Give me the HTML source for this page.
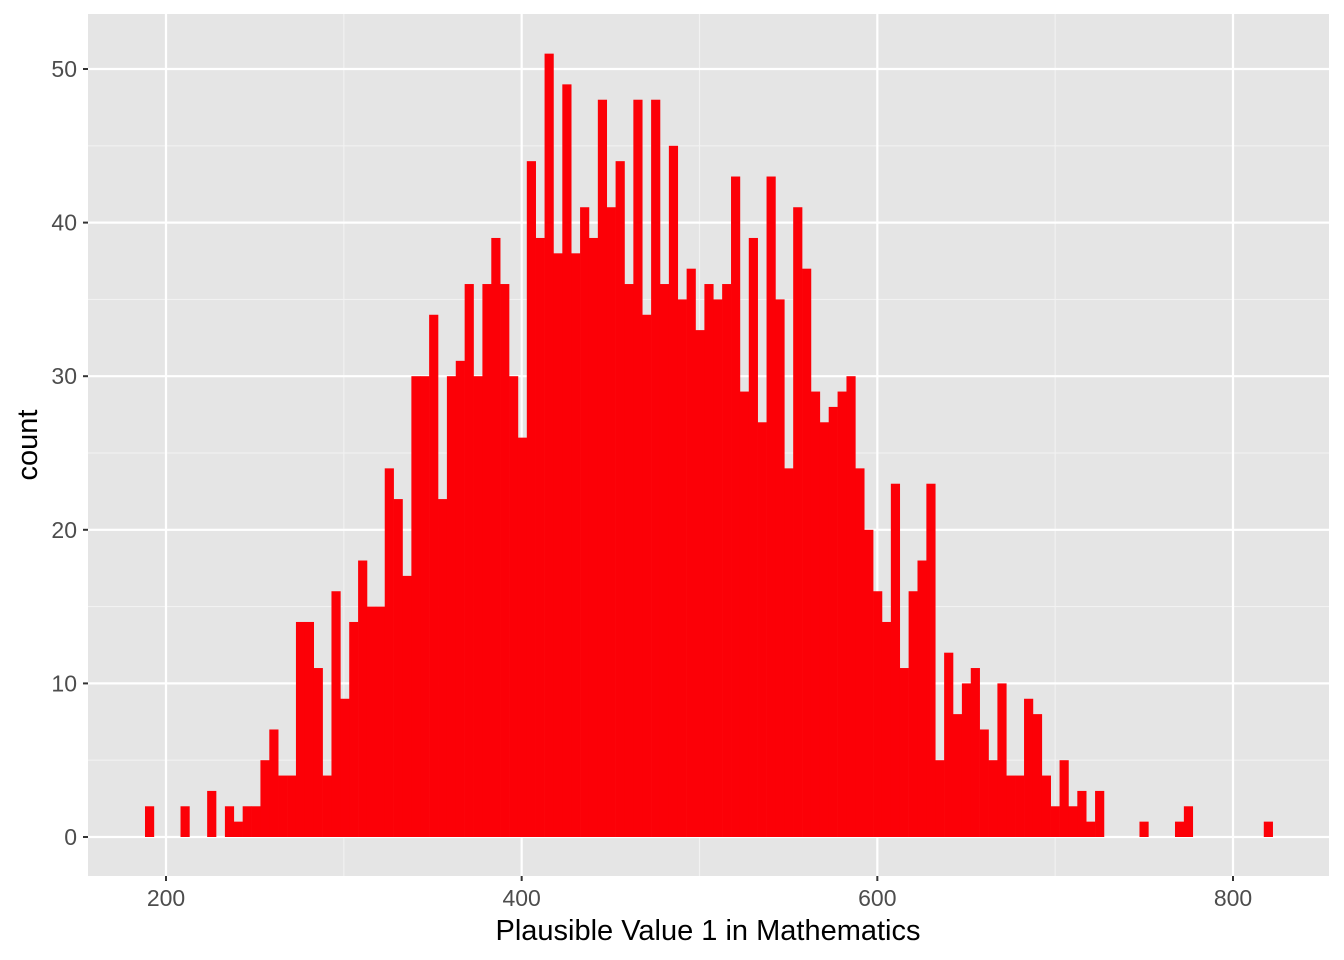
<!DOCTYPE html>
<html><head><meta charset="utf-8"><style>
body{margin:0;background:#fff;}
svg{display:block;font-family:"Liberation Sans",Arial,sans-serif;}
</style></head><body>
<svg id="chart" width="1344" height="960" xmlns="http://www.w3.org/2000/svg">
<rect x="88" y="14" width="1241" height="862" fill="#e5e5e5"/>
<g id="grid"></g>
<g id="bars"></g>
<g id="axes"></g>
<text x="708" y="940" text-anchor="middle" font-size="29" fill="#000">Plausible Value 1 in Mathematics</text>
<text transform="translate(37,445) rotate(-90)" text-anchor="middle" font-size="29" fill="#000">count</text>
</svg>
<script>
const counts = [2,0,0,0,2,0,0,3,0,2,1,2,2,5,7,4,4,14,14,11,4,16,9,14,18,15,15,24,22,17,30,30,34,22,30,31,36,30,36,39,36,30,26,44,39,51,38,49,38,41,39,48,41,44,36,48,34,48,36,45,35,37,33,36,35,36,43,29,39,27,43,35,24,41,37,29,27,28,29,30,24,20,16,14,23,11,16,18,23,5,12,8,10,11,7,5,10,4,4,9,8,4,2,5,2,3,1,3,0,0,0,0,1,0,0,0,1,2,0,0,0,0,0,0,0,0,1];
const binStart = 188.19;
const binWidth = 4.993;
const xTicks = [200,400,600,800];
const xMinor = [300,500,700];
const yTicks = [0,10,20,30,40,50];
const yMinor = [5,15,25,35,45];

const NS="http://www.w3.org/2000/svg";
const X = v => 166 + (v-200)*1067/600;
const Y = c => 837 - c*15.36;
const L=88,R=1329,T=14,B=876;
function mk(tag, attrs, parent){const e=document.createElementNS(NS,tag);for(const k in attrs)e.setAttribute(k,attrs[k]);parent.appendChild(e);return e;}
const grid=document.getElementById('grid'),bars=document.getElementById('bars'),axes=document.getElementById('axes');
yMinor.forEach(v=>{const e=mk('line',{x1:L,x2:R,y1:Y(v),y2:Y(v),stroke:'#f2f2f2','stroke-width':1.1},grid);

});
xMinor.forEach(v=>{const e=mk('line',{x1:X(v),x2:X(v),y1:T,y2:B,stroke:'#f2f2f2','stroke-width':1.1},grid);

});
yTicks.forEach(v=>{const e=mk('line',{x1:L,x2:R,y1:Y(v),y2:Y(v),stroke:'#fff','stroke-width':2.2},grid);


const t=mk('line',{x1:L-5,x2:L,y1:Y(v),y2:Y(v),stroke:'#333','stroke-width':2},axes);


const l=mk('text',{x:L-11,y:Y(v)+8,'text-anchor':'end','font-size':23,fill:'#4d4d4d'},axes);l.textContent=v;

});
xTicks.forEach(v=>{const e=mk('line',{x1:X(v),x2:X(v),y1:T,y2:B,stroke:'#fff','stroke-width':2.2},grid);


const t=mk('line',{x1:X(v),x2:X(v),y1:B,y2:B+5,stroke:'#333','stroke-width':2},axes);


const l=mk('text',{x:X(v),y:B+30,'text-anchor':'middle','font-size':23,fill:'#4d4d4d'},axes);l.textContent=v;

});
counts.forEach((c,i)=>{if(c<=0)return;const x0=X(binStart+i*binWidth),x1=X(binStart+(i+1)*binWidth);
const r=mk('rect',{x:x0,y:Y(c),width:x1-x0+0.3,height:Y(0)-Y(c),fill:'#fc0007'},bars);

});
</script>
</body></html>
